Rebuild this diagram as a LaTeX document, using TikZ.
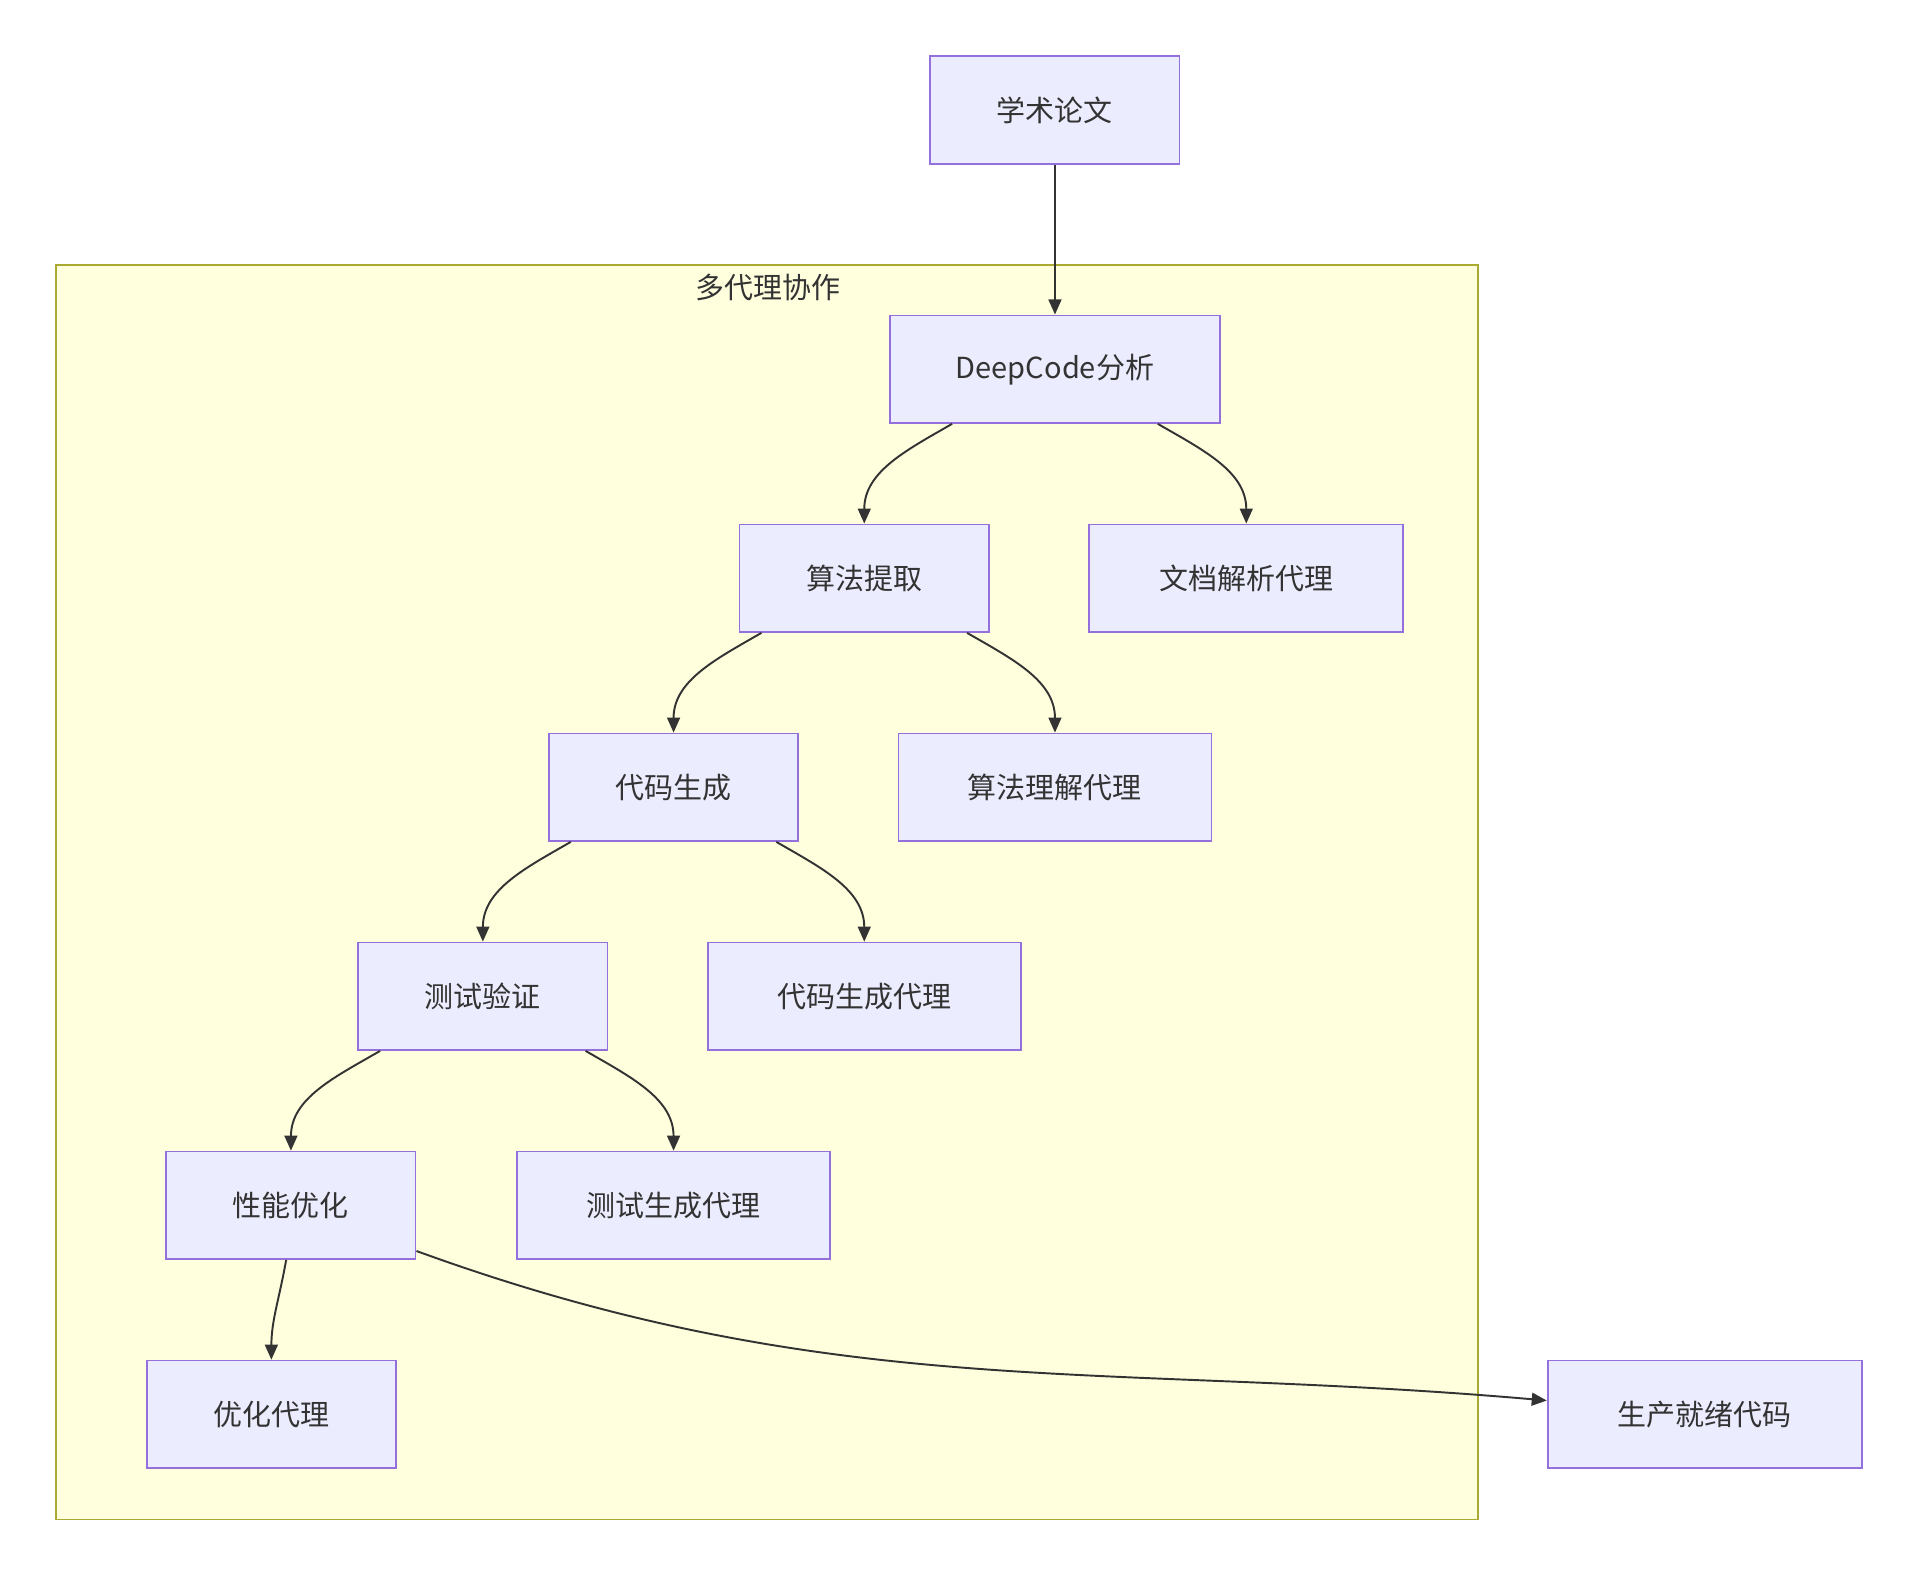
\documentclass[tikz,border=0pt]{standalone}
\usepackage{fontspec}
\setmainfont{Noto Sans CJK SC}
\usetikzlibrary{positioning,arrows.meta,calc}
\definecolor{boxfill}{HTML}{ECECFF}
\definecolor{boxline}{HTML}{9370DB}
\definecolor{grpfill}{HTML}{FFFFDE}
\definecolor{grpline}{HTML}{AAAA33}
\definecolor{arrline}{HTML}{333333}
\tikzset{
  box/.style={draw=boxline, fill=boxfill, line width=0.8pt, minimum height=1.76cm,
    inner sep=0pt, font=\fontsize{13.5}{16}\selectfont, text=arrline},
  arr/.style={draw=arrline, line width=0.9pt, -{Triangle[length=7pt,width=6pt]}}
}
\begin{document}
\begin{tikzpicture}[x=0.02cm,y=-0.02cm]
   \useasboundingbox (0,0) rectangle (1560,1283);

   % group frame
   \draw[draw=grpline, fill=grpfill, line width=0.8pt] (46,217) rectangle (1209,1243);
   \node[font=\fontsize{13.5}{16}\selectfont, text=arrline] (grp) at (628,235) {多代理协作};

   % main chain
   \node[box, minimum width=4.08cm] (paper) at (863,90)  {学术论文};
   \node[box, minimum width=5.40cm] (dc)    at (863,302) {DeepCode分析};
   \node[box, minimum width=4.08cm] (alg)   at (707,473) {算法提取};
   \node[box, minimum width=5.14cm] (doc)   at (1019.5,473) {文档解析代理};
   \node[box, minimum width=4.08cm] (gen)   at (551,644) {代码生成};
   \node[box, minimum width=5.12cm] (algag) at (863,644) {算法理解代理};
   \node[box, minimum width=4.08cm] (test)  at (395,815) {测试验证};
   \node[box, minimum width=5.12cm] (genag) at (707,815) {代码生成代理};
   \node[box, minimum width=4.08cm] (perf)  at (238,986) {性能优化};
   \node[box, minimum width=5.12cm] (tstag) at (551,986) {测试生成代理};
   \node[box, minimum width=4.08cm] (optag) at (222,1157) {优化代理};
   \node[box, minimum width=5.14cm] (prod)  at (1394.5,1157) {生产就绪代码};

   % connectors
   \draw[arr] (paper) -- (dc);
   \draw[arr] (dc.-152)   to[out=-150,in=90] (alg.north);
   \draw[arr] (dc.-28)    to[out=-30,in=90]  (doc.north);
   \draw[arr] (alg.-152)  to[out=-150,in=90] (gen.north);
   \draw[arr] (alg.-28)   to[out=-30,in=90]  (algag.north);
   \draw[arr] (gen.-152)  to[out=-150,in=90] (test.north);
   \draw[arr] (gen.-28)   to[out=-30,in=90]  (genag.north);
   \draw[arr] (test.-152) to[out=-150,in=90] (perf.north);
   \draw[arr] (test.-28)  to[out=-30,in=90]  (tstag.north);
   \draw[arr] (perf.-95)  to[out=-100,in=90] (optag.north);
   \draw[arr] (perf.-20)  to[out=-20,in=175] (prod.175);
\end{tikzpicture}
\end{document}
